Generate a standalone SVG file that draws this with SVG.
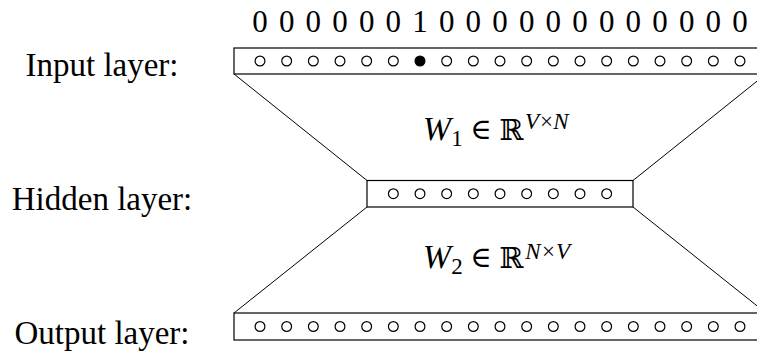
<svg xmlns="http://www.w3.org/2000/svg" xmlns:xlink="http://www.w3.org/1999/xlink" width="757" height="351" viewBox="0 0 757 351">
<style>
.box{fill:#fff;stroke:#000;stroke-width:1.2}
.u{fill:#fff;stroke:#000;stroke-width:1.2}
.on{fill:#000;stroke:#000;stroke-width:1.2}
.conn line{stroke:#000;stroke-width:1}
.lbl{font-family:"Liberation Serif","DejaVu Serif",serif;font-size:33px;fill:#000;text-anchor:middle}
.dig{font-family:"Liberation Serif","DejaVu Serif",serif;font-size:31px;fill:#000;text-anchor:middle}
.m{font-family:"Liberation Serif","DejaVu Serif",serif;fill:#000;text-anchor:middle}
.it{font-style:italic}
.big{font-size:34px}
.sm{font-size:23px}
.sym{font-family:"DejaVu Serif","Liberation Serif",serif;font-size:29px}
</style>
<defs>
<circle id="c" r="4.9"/>
</defs>
<g id="connectors" class="conn">
<line x1="234" y1="74" x2="367" y2="180.5"/>
<line x1="766" y1="74" x2="633" y2="180.5"/>
<line x1="367" y1="207" x2="234" y2="313"/>
<line x1="633" y1="207" x2="766" y2="313"/>
</g>
<g id="one-hot">
<text class="dig" y="32"><tspan x="260">0</tspan><tspan x="286.67">0</tspan><tspan x="313.33">0</tspan><tspan x="340">0</tspan><tspan x="366.67">0</tspan><tspan x="393.33">0</tspan><tspan x="420">1</tspan><tspan x="446.67">0</tspan><tspan x="473.33">0</tspan><tspan x="500">0</tspan><tspan x="526.67">0</tspan><tspan x="553.33">0</tspan><tspan x="580">0</tspan><tspan x="606.67">0</tspan><tspan x="633.33">0</tspan><tspan x="660">0</tspan><tspan x="686.67">0</tspan><tspan x="713.33">0</tspan><tspan x="740">0</tspan></text>
</g>
<g id="input-layer">
<text class="lbl" x="102" y="76">Input layer:</text>
<rect class="box" x="234" y="48" width="532" height="26"/>
<g transform="translate(0,61)">
<use href="#c" class="u" x="260"/><use href="#c" class="u" x="286.67"/><use href="#c" class="u" x="313.33"/><use href="#c" class="u" x="340"/><use href="#c" class="u" x="366.67"/><use href="#c" class="u" x="393.33"/><use href="#c" class="on" x="420"/><use href="#c" class="u" x="446.67"/><use href="#c" class="u" x="473.33"/><use href="#c" class="u" x="500"/><use href="#c" class="u" x="526.67"/><use href="#c" class="u" x="553.33"/><use href="#c" class="u" x="580"/><use href="#c" class="u" x="606.67"/><use href="#c" class="u" x="633.33"/><use href="#c" class="u" x="660"/><use href="#c" class="u" x="686.67"/><use href="#c" class="u" x="713.33"/><use href="#c" class="u" x="740"/>
</g>
</g>
<g id="hidden-layer">
<text class="lbl" x="102" y="210">Hidden layer:</text>
<rect class="box" x="367" y="180.5" width="266" height="26.5"/>
<g transform="translate(0,193.7)">
<use href="#c" class="u" x="393.33"/><use href="#c" class="u" x="420"/><use href="#c" class="u" x="446.67"/><use href="#c" class="u" x="473.33"/><use href="#c" class="u" x="500"/><use href="#c" class="u" x="526.67"/><use href="#c" class="u" x="553.33"/><use href="#c" class="u" x="580"/><use href="#c" class="u" x="606.67"/>
</g>
</g>
<g id="output-layer">
<text class="lbl" x="102" y="344">Output layer:</text>
<rect class="box" x="234" y="313" width="532" height="27"/>
<g transform="translate(0,326.5)">
<use href="#c" class="u" x="260"/><use href="#c" class="u" x="286.67"/><use href="#c" class="u" x="313.33"/><use href="#c" class="u" x="340"/><use href="#c" class="u" x="366.67"/><use href="#c" class="u" x="393.33"/><use href="#c" class="u" x="420"/><use href="#c" class="u" x="446.67"/><use href="#c" class="u" x="473.33"/><use href="#c" class="u" x="500"/><use href="#c" class="u" x="526.67"/><use href="#c" class="u" x="553.33"/><use href="#c" class="u" x="580"/><use href="#c" class="u" x="606.67"/><use href="#c" class="u" x="633.33"/><use href="#c" class="u" x="660"/><use href="#c" class="u" x="686.67"/><use href="#c" class="u" x="713.33"/><use href="#c" class="u" x="740"/>
</g>
</g>
<g id="w1-label">
<text class="m it big" x="437" y="140">W</text>
<text class="m sm" x="457" y="146">1</text>
<text class="m sym" x="481" y="139">∈</text>
<text class="m sym" x="511.5" y="140">ℝ</text>
<text class="m it sm" x="532" y="129">V</text>
<text class="m sm" x="546.5" y="129">×</text>
<text class="m it sm" x="561" y="129">N</text>
</g>
<g id="w2-label">
<text class="m it big" x="437" y="268">W</text>
<text class="m sm" x="457" y="274">2</text>
<text class="m sym" x="481" y="267">∈</text>
<text class="m sym" x="511.5" y="268">ℝ</text>
<text class="m it sm" x="533" y="259">N</text>
<text class="m sm" x="548.5" y="259">×</text>
<text class="m it sm" x="563" y="259">V</text>
</g>
</svg>
